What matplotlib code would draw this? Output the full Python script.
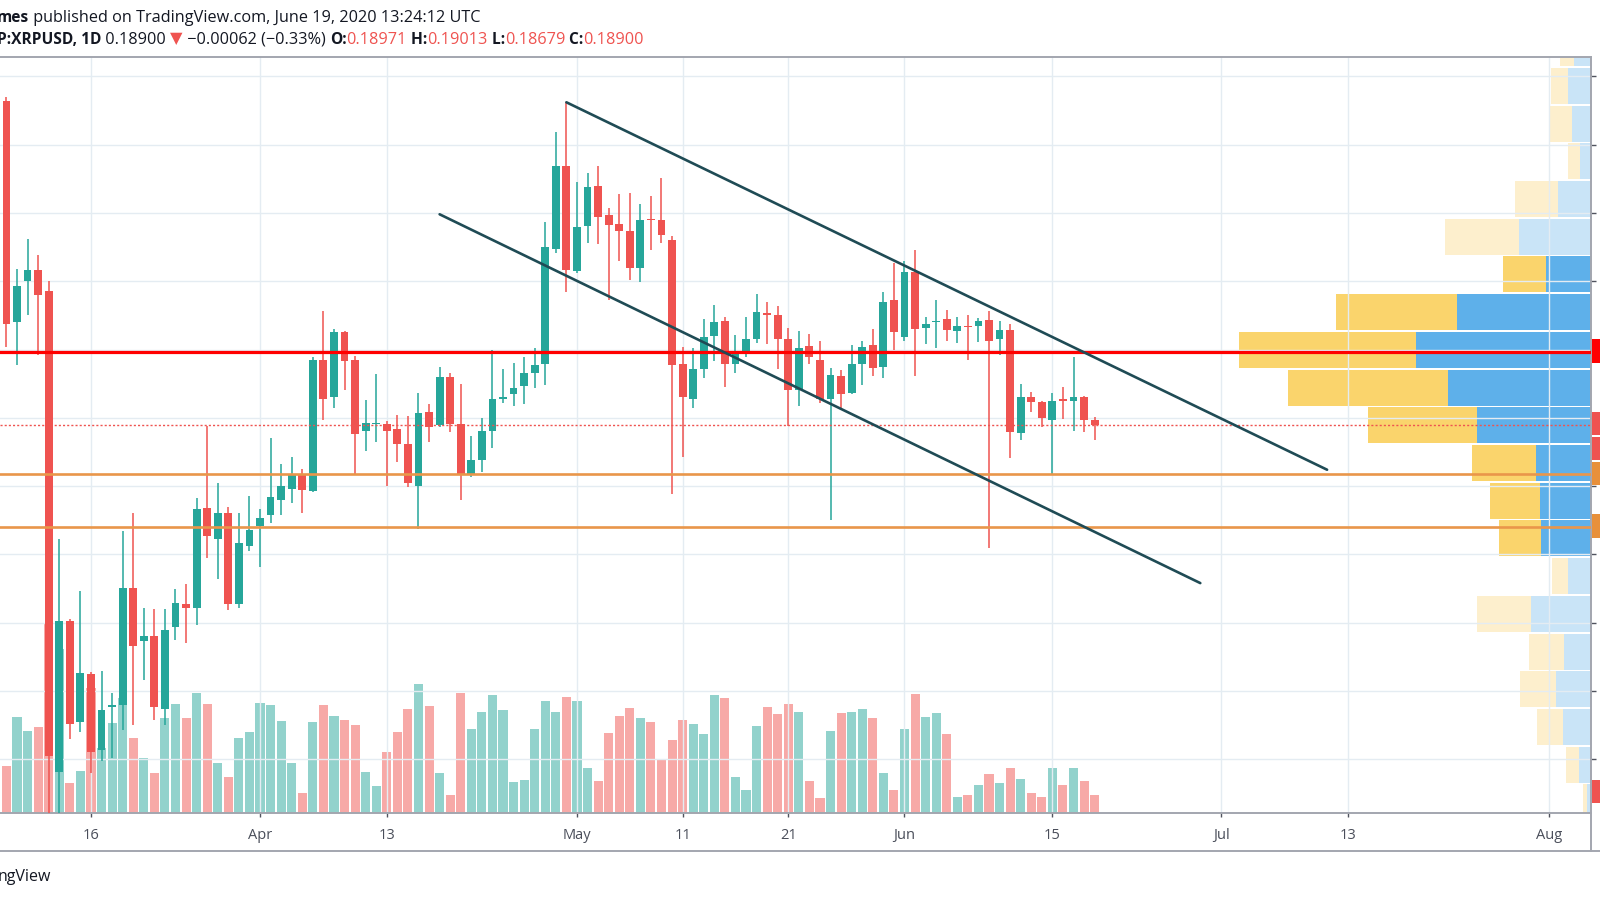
import matplotlib.pyplot as plt
import matplotlib.dates as mdates
from matplotlib.patches import Rectangle
import numpy as np
import pandas as pd

# daily candles XRPUSD, Mar 8 - Jun 19 2020
dates = pd.date_range('2020-03-08', '2020-06-19', freq='D')

opens = [0.2364, 0.2040, 0.2100, 0.2116, 0.2085, 0.1381, 0.1602, 0.1455, 0.1525, 0.1413,
         0.1477, 0.1479, 0.1651, 0.1573, 0.1581, 0.1474, 0.1594, 0.1627, 0.1621, 0.1768,
         0.1723, 0.1761, 0.1628, 0.1713, 0.1741, 0.1758, 0.1779, 0.1796, 0.1817, 0.1793,
         0.1984, 0.1930, 0.2025, 0.1985, 0.1880, 0.1891, 0.1891, 0.1884, 0.1861, 0.1800,
         0.1909, 0.1889, 0.1960, 0.1891, 0.1818, 0.1838, 0.1881, 0.1928, 0.1935, 0.1947,
         0.1966, 0.1979, 0.2147, 0.2268, 0.2115, 0.2181, 0.2240, 0.2197, 0.2184, 0.2173,
         0.2120, 0.2191, 0.2190, 0.2161, 0.1979, 0.1927, 0.1972, 0.2020, 0.2042, 0.1979,
         0.1994, 0.2015, 0.2053, 0.2051, 0.2015, 0.1941, 0.2005, 0.1985, 0.1927, 0.1961,
         0.1937, 0.1979, 0.2007, 0.1974, 0.2072, 0.2018, 0.2113, 0.2032, 0.2040, 0.2044,
         0.2027, 0.2035, 0.2034, 0.2043, 0.2015, 0.2028, 0.1878, 0.1930, 0.1923, 0.1897,
         0.1927, 0.1924, 0.1931, 0.18971]
highs = [0.2370, 0.2118, 0.2162, 0.2139, 0.2100, 0.1722, 0.1605, 0.1646, 0.1528, 0.1530,
         0.1497, 0.1735, 0.1760, 0.1621, 0.1620, 0.1620, 0.1650, 0.1657, 0.1782, 0.1888,
         0.1804, 0.1770, 0.1760, 0.1785, 0.1766, 0.1871, 0.1832, 0.1843, 0.1825, 0.1989,
         0.2057, 0.2030, 0.2027, 0.1990, 0.1926, 0.1964, 0.1895, 0.1904, 0.1902, 0.1937,
         0.1920, 0.1974, 0.1966, 0.1949, 0.1874, 0.1900, 0.2000, 0.1972, 0.1981, 0.1989,
         0.2002, 0.2187, 0.2318, 0.2362, 0.2246, 0.2258, 0.2269, 0.2207, 0.2228, 0.2229,
         0.2213, 0.2225, 0.2251, 0.2166, 0.2004, 0.2002, 0.2045, 0.2065, 0.2048, 0.2021,
         0.2048, 0.2081, 0.2069, 0.2063, 0.2031, 0.2027, 0.2023, 0.2013, 0.1973, 0.1970,
         0.2006, 0.2012, 0.2030, 0.2084, 0.2126, 0.2130, 0.2146, 0.2048, 0.2072, 0.2058,
         0.2048, 0.2050, 0.2046, 0.2056, 0.2042, 0.2038, 0.1950, 0.1938, 0.1924, 0.1936,
         0.1945, 0.1989, 0.1932, 0.19013]
lows = [0.2004, 0.1978, 0.2051, 0.1992, 0.1250, 0.1210, 0.1430, 0.1440, 0.1380, 0.1397,
        0.1402, 0.1443, 0.1450, 0.1516, 0.1457, 0.1450, 0.1574, 0.1570, 0.1597, 0.1695,
        0.1664, 0.1618, 0.1622, 0.1705, 0.1681, 0.1746, 0.1758, 0.1776, 0.1761, 0.1792,
        0.1897, 0.1914, 0.1941, 0.1818, 0.1851, 0.1865, 0.1800, 0.1835, 0.1798, 0.1737,
        0.1865, 0.1886, 0.1879, 0.1779, 0.1813, 0.1820, 0.1856, 0.1922, 0.1918, 0.1920,
        0.1943, 0.1948, 0.2141, 0.2084, 0.2112, 0.2156, 0.2154, 0.2072, 0.2130, 0.2102,
        0.2099, 0.2145, 0.2156, 0.1789, 0.1843, 0.1914, 0.1958, 0.1983, 0.1945, 0.1966,
        0.1989, 0.2010, 0.2008, 0.1972, 0.1888, 0.1918, 0.1979, 0.1922, 0.1750, 0.1915,
        0.1935, 0.1948, 0.1961, 0.1958, 0.2000, 0.2013, 0.1961, 0.2008, 0.2002, 0.2012,
        0.2010, 0.1984, 0.2011, 0.1709, 0.1992, 0.1841, 0.1867, 0.1909, 0.1886, 0.1818,
        0.1899, 0.1881, 0.1879, 0.18679]
closes = [0.2038, 0.2093, 0.2116, 0.2080, 0.1405, 0.1602, 0.1451, 0.1527, 0.1410, 0.1472,
          0.1480, 0.1651, 0.1566, 0.1581, 0.1477, 0.1589, 0.1629, 0.1621, 0.1766, 0.1727,
          0.1760, 0.1627, 0.1716, 0.1736, 0.1754, 0.1784, 0.1800, 0.1817, 0.1794, 0.1985,
          0.1928, 0.2025, 0.1983, 0.1877, 0.1892, 0.1893, 0.1880, 0.1861, 0.1804, 0.1907,
          0.1886, 0.1960, 0.1891, 0.1818, 0.1838, 0.1881, 0.1928, 0.1931, 0.1944, 0.1966,
          0.1977, 0.2150, 0.2269, 0.2117, 0.2179, 0.2238, 0.2194, 0.2182, 0.2173, 0.2120,
          0.2189, 0.2189, 0.2167, 0.1977, 0.1931, 0.1972, 0.2019, 0.2041, 0.1979, 0.1995,
          0.2015, 0.2055, 0.2051, 0.2015, 0.1941, 0.2002, 0.1989, 0.1928, 0.1963, 0.1935,
          0.1979, 0.2004, 0.1973, 0.2069, 0.2025, 0.2113, 0.2030, 0.2038, 0.2042, 0.2029,
          0.2035, 0.2033, 0.2042, 0.2013, 0.2029, 0.1879, 0.1931, 0.1923, 0.1900, 0.1924,
          0.1924, 0.1930, 0.1897, 0.18900]
volumes = [47, 96, 82, 86, 189, 164, 30, 42, 125, 65,
           90, 115, 75, 55, 40, 95, 109, 95, 120, 109,
           50, 36, 75, 81, 110, 108, 92, 50, 20, 91,
           108, 97, 93, 88, 41, 27, 61, 81, 104, 129,
           107, 40, 18, 120, 84, 101, 118, 103, 31, 33,
           84, 112, 101, 116, 112, 45, 32, 80, 97, 105,
           95, 91, 54, 73, 93, 89, 79, 118, 115, 36,
           23, 87, 106, 99, 109, 101, 32, 15, 82, 100,
           101, 104, 95, 40, 23, 84, 119, 96, 100, 79,
           16, 18, 28, 39, 30, 45, 34, 20, 16, 45,
           28, 45, 32, 18]

# levels drawn on the chart
resistance = 0.1997
supports = [0.1818, 0.1740]
last_close = 0.18900
channel_upper = [('2020-04-30', 0.2362), ('2020-07-11', 0.1824)]
channel_lower = [('2020-04-18', 0.2198), ('2020-06-29', 0.1658)]

# visible range volume profile (rows from top to bottom)
vp_row_low = [0.24136, 0.23584, 0.23032, 0.22480, 0.21928, 0.21375, 0.20823, 0.20271,
              0.19719, 0.19167, 0.18615, 0.18063, 0.17511, 0.16958, 0.16406, 0.15854,
              0.15302, 0.14750, 0.14198, 0.13646, 0.13094]
vp_up = [17, 23, 19, 11, 33, 72, 45, 134, 175, 143, 114, 55, 51, 50, 23, 60, 27, 35, 28, 12, 4]
vp_down = [14, 17, 23, 12, 43, 74, 43, 121, 177, 160, 109, 64, 50, 42, 16, 54, 35, 36, 26, 13, 4]
vp_value_area = [0, 0, 0, 0, 0, 0, 1, 1, 1, 1, 1, 1, 1, 1, 0, 0, 0, 0, 0, 0, 0]
vp_row_size = 0.005521

tick_dates = ['2020-03-16', '2020-04-01', '2020-04-13', '2020-05-01', '2020-05-11',
              '2020-05-21', '2020-06-01', '2020-06-15', '2020-07-01', '2020-07-13', '2020-08-01']
tick_labels = ['16', 'Apr', '13', 'May', '11', '21', 'Jun', '15', 'Jul', '13', 'Aug']

UP = '#26a69a'
DOWN = '#ef5350'
FONT = ['Open Sans', 'DejaVu Sans']

o = np.array(opens); h = np.array(highs); l = np.array(lows); c = np.array(closes)
x = mdates.date2num(dates)
rising = c >= o
cols = np.where(rising, UP, DOWN)

fig = plt.figure(figsize=(16, 9), dpi=100)
pos = [0, 87 / 900, 1591 / 1600, 756 / 900]
base = mdates.date2num(pd.Timestamp('2020-03-16'))
xlim = (base - 8.61, base + 141.98)
ylim = (0.13214, 0.24283)

# volume pane (bottom layer)
axv = fig.add_axes(pos, zorder=1)
axv.bar(x, volumes, width=0.86, color=np.where(rising, '#92d2cc', '#f7a9a7'))
axv.set_xlim(xlim)
axv.set_ylim(0, 756)
axv.axis('off')

# volume profile
axp = fig.add_axes(pos, zorder=2)
centers = np.array(vp_row_low) + vp_row_size / 2
va = np.array(vp_value_area) == 1
axp.barh(centers, vp_up, height=vp_row_size * 0.955, left=0,
         color=np.where(va, '#5eb0ea', '#c9e4f7'))
axp.barh(centers, vp_down, height=vp_row_size * 0.955, left=vp_up,
         color=np.where(va, '#fad46c', '#fdefcd'))
axp.set_xlim(1591, 0)
axp.set_ylim(ylim)
axp.axis('off')

# price pane
ax = fig.add_axes(pos, zorder=3)
ax.patch.set_visible(False)
ax.set_xlim(xlim)
ax.set_ylim(ylim)
ax.set_yticks(np.arange(0.14, 0.245, 0.01))
tick_x = mdates.date2num(pd.to_datetime(tick_dates))
ax.set_xticks(tick_x)
ax.set_xticklabels(tick_labels, family=FONT, fontsize=10.5, color='#4a4e5a')
ax.grid(True, color='#e4ecf2', lw=1, zorder=0)
ax.set_axisbelow(True)
ax.tick_params(axis='y', left=False, right=True, labelleft=False, labelright=False,
               length=3.5, width=1, color='#50535e')
ax.tick_params(axis='x', length=3, width=1, color='#50535e', pad=8)
for side in ['top', 'right', 'bottom']:
    ax.spines[side].set_color('#a3a6af')
    ax.spines[side].set_linewidth(1.4)
ax.spines['left'].set_visible(False)

ax.vlines(x, l, h, colors=cols, lw=1.1, zorder=3)
ax.bar(x, np.maximum(np.abs(c - o), 0.00015), bottom=np.minimum(o, c), width=0.74,
       color=cols, zorder=4)

ax.axhline(resistance, color='#ff0000', lw=2.3, zorder=5)
for s in supports:
    ax.axhline(s, color='#e9964a', lw=1.9, zorder=5)
ax.axhline(last_close, color=DOWN, lw=1, ls=(0, (1.5, 1.5)), zorder=5)

for line in [channel_upper, channel_lower]:
    lx = mdates.date2num(pd.to_datetime([p[0] for p in line]))
    ax.plot(lx, [p[1] for p in line], color='#1f4b55', lw=1.9, zorder=6,
            solid_capstyle='round')

# overlay in pixel coordinates for header, frame and price scale tags
axo = fig.add_axes([0, 0, 1, 1], zorder=10)
axo.set_xlim(0, 1600)
axo.set_ylim(900, 0)
axo.axis('off')
axo.plot([0, 1600], [851, 851], color='#a3a6af', lw=1.4)
axo.plot([1591, 1591], [813, 851], color='#a3a6af', lw=1.4)

tags = [(339, 363, '#ff0000'), (412, 435, DOWN), (437, 460, DOWN),
        (462, 485, '#e8903a'), (514, 538, '#e8903a'), (780, 803, DOWN)]
for y0, y1, col in tags:
    axo.add_patch(Rectangle((1592, y0), 10, y1 - y0, color=col, lw=0))


def chain(parts, x0, y0):
    prev = None
    for s, col, wt in parts:
        size = 11.2 if wt == 'bold' else 11.7
        if prev is None:
            prev = axo.text(x0, y0, s, color=col, weight=wt, family=FONT,
                            fontsize=size, ha='left', va='center')
        else:
            prev = axo.annotate(s, xy=(1, 0), xycoords=prev, color=col, weight=wt,
                                family=FONT, fontsize=size, ha='left', va='bottom')


TXT = '#131722'
chain([('mes', TXT, 'bold'),
       (' published on TradingView.com, June 19, 2020 13:24:12 UTC', TXT, 'normal')], -3, 17.5)
chain([('P:XRPUSD, 1D', TXT, 'bold'), (' 0.18900 ', TXT, 'normal'), ('▼', DOWN, 'normal'),
       (' \u22120.00062 (\u22120.33%) ', TXT, 'normal'),
       ('O:', TXT, 'bold'), ('0.18971', DOWN, 'normal'),
       (' H:', TXT, 'bold'), ('0.19013', DOWN, 'normal'),
       (' L:', TXT, 'bold'), ('0.18679', DOWN, 'normal'),
       (' C:', TXT, 'bold'), ('0.18900', DOWN, 'normal')], -3, 39.5)
axo.text(-2, 877, 'ngView', family=FONT, fontsize=11.5, color=TXT, ha='left', va='center')

fig.savefig('out.png', dpi=100)
